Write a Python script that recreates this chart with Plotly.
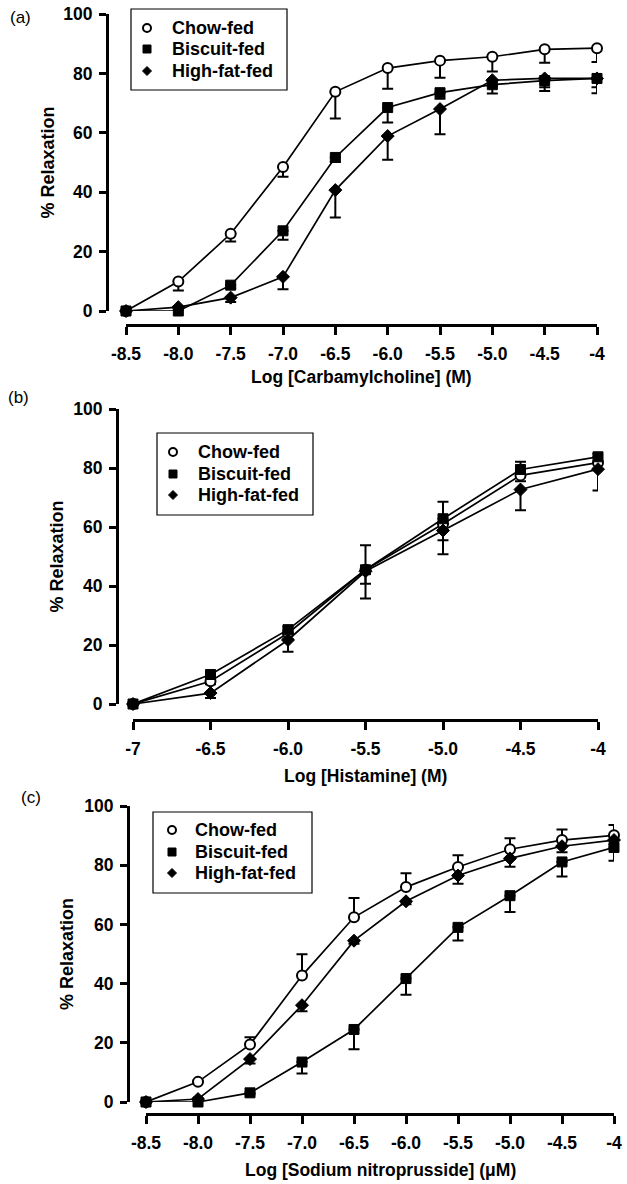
import plotly.graph_objects as go

W, H = 627, 1184

# ---------------- data ----------------
series_names = ["Chow-fed", "Biscuit-fed", "High-fat-fed"]

# Panel (a) carbamylcholine
xa = [-8.5, -8.0, -7.5, -7.0, -6.5, -6.0, -5.5, -5.0, -4.5, -4.0]
xa_ticks = ["-8.5", "-8.0", "-7.5", "-7.0", "-6.5", "-6.0", "-5.5", "-5.0", "-4.5", "-4"]
a_chow = [0, 9.9, 26, 48.5, 73.8, 81.8, 84.3, 85.6, 88.1, 88.5]
a_chow_err = [0, 3, 2.6, 3.3, 9, 7, 5.8, 5, 4.5, 4.7]
a_bisc = [0, 0, 8.7, 27, 51.7, 68.5, 73.5, 76.2, 77.6, 78.3]
a_bisc_err = [0, 0, 1, 3, 1.5, 5, 2, 3, 3.5, 5]
a_hf = [0, 1.3, 4.5, 11.5, 40.7, 58.9, 68, 77.7, 78.3, 78.3]
a_hf_err = [0, 0.5, 1.5, 4.2, 9.2, 8, 8.5, 2, 3, 3]

# Panel (b) histamine
xb = [-7.0, -6.5, -6.0, -5.5, -5.0, -4.5, -4.0]
xb_ticks = ["-7", "-6.5", "-6.0", "-5.5", "-5.0", "-4.5", "-4"]
b_chow = [0, 7.7, 24, 45.5, 61, 77.5, 81.8]
b_chow_err = [0, 1, 2, 4.7, 5.5, 2, 2]
b_bisc = [0, 10, 25.2, 45.5, 62.8, 79.5, 83.8]
b_bisc_err = [0, 1, 1, 8.3, 5.8, 2.6, 1]
b_hf = [0, 3.7, 21.7, 45, 58.8, 72.7, 79.6]
b_hf_err = [0, 1.7, 4, 9.2, 8, 7, 7.2]

# Panel (c) sodium nitroprusside
xc = [-8.5, -8.0, -7.5, -7.0, -6.5, -6.0, -5.5, -5.0, -4.5, -4.0]
xc_ticks = ["-8.5", "-8.0", "-7.5", "-7.0", "-6.5", "-6.0", "-5.5", "-5.0", "-4.5", "-4"]
c_chow = [0, 6.8, 19.4, 42.7, 62.4, 72.6, 79.4, 85.4, 88.5, 90.1]
c_chow_err = [0, 0.5, 2.5, 7.2, 6.5, 4.7, 4, 3.7, 3.6, 3.5]
c_bisc = [0, 0, 3.1, 13.5, 24.5, 41.7, 59, 69.7, 81.1, 86]
c_bisc_err = [0, 0, 0.5, 3.9, 6.7, 5.5, 4.4, 5.5, 4.9, 4.5]
c_hf = [0, 1.0, 14.5, 32.7, 54.5, 67.8, 76.5, 82.3, 86.4, 88.5]
c_hf_err = [0, 0.3, 1.5, 2, 1, 1, 2.8, 2.8, 2, 1.5]

y_ticks = [0, 20, 40, 60, 80, 100]

# ---------------- layout geometry (window pixels) ----------------
panels = [
    dict(x=xa, xt=xa_ticks, xr=[-8.5, -4.0], ylinex=107, y0=311, y100=14,
         xaxy=325, xl=126, xr_px=597, label="(a)", lab_xy=(20, 17),
         title="Log [Carbamylcholine] (M)", title_y=377, ytitle_x=48,
         box=(131, 9, 287, 90), sym_x=147, txt_x=171, rows=(28, 49, 71),
         data=[(a_chow, a_chow_err, "down"), (a_bisc, a_bisc_err, "down"), (a_hf, a_hf_err, "down")]),
    dict(x=xb, xt=xb_ticks, xr=[-7.0, -4.0], ylinex=117, y0=704, y100=409,
         xaxy=720, xl=133, xr_px=598, label="(b)", lab_xy=(18, 397),
         title="Log [Histamine] (M)", title_y=776, ytitle_x=56,
         box=(157, 433, 313, 515), sym_x=173, txt_x=197, rows=(452, 474, 495),
         data=[(b_chow, b_chow_err, "down"), (b_bisc, b_bisc_err, "up"), (b_hf, b_hf_err, "down")]),
    dict(x=xc, xt=xc_ticks, xr=[-8.5, -4.0], ylinex=128, y0=1102, y100=806,
         xaxy=1114, xl=146, xr_px=614, label="(c)", lab_xy=(31, 797),
         title="Log [Sodium nitroprusside] (\u03bcM)", title_y=1170, ytitle_x=67,
         box=(153, 812, 312, 893), sym_x=172, txt_x=194, rows=(830, 852, 873),
         data=[(c_chow, c_chow_err, "up"), (c_bisc, c_bisc_err, "down"), (c_hf, c_hf_err, "down")]),
]

FONT = "Liberation Sans, Arial, sans-serif"
markers = [
    dict(symbol="circle", size=10, color="white", line=dict(color="black", width=2)),
    dict(symbol="square", size=10, color="black", line=dict(color="black", width=1)),
    dict(symbol="diamond", size=10, color="black", line=dict(color="black", width=1)),
]

fig = go.Figure()
shapes = []
annotations = []
layout = {}


def px(x):
    return x / W


def py(y):
    return 1 - y / H


def note(text, x, y, size=18, xanchor="center", angle=0):
    annotations.append(dict(text=text, xref="paper", yref="paper", x=px(x), y=py(y),
                            xanchor=xanchor, yanchor="middle", textangle=angle,
                            showarrow=False, borderpad=0,
                            font=dict(family=FONT, size=size, color="black")))


for i, p in enumerate(panels):
    n = "" if i == 0 else str(i + 1)
    xref = "x" + n
    yref = "y" + n
    for j, (vals, err, direction) in enumerate(p["data"]):
        zeros = [0] * len(err)
        ey = dict(type="data", symmetric=False, color="black", thickness=2, width=5.5,
                  array=err if direction == "up" else zeros,
                  arrayminus=err if direction == "down" else zeros)
        fig.add_trace(go.Scatter(
            x=p["x"], y=vals, mode="lines+markers", xaxis=xref, yaxis=yref,
            line=dict(color="black", width=1.7), marker=markers[j], error_y=ey,
            cliponaxis=False, showlegend=False, name=series_names[j]))

    layout["xaxis" + n] = dict(
        domain=[px(p["xl"]), px(p["xr_px"])], range=p["xr"], anchor="free",
        position=py(p["xaxy"]), showline=True, linecolor="black", linewidth=3,
        ticks="outside", ticklen=8, tickwidth=3, tickcolor="black",
        tickvals=p["x"], ticktext=p["xt"], showgrid=False, zeroline=False,
        automargin=False,
        tickfont=dict(family=FONT, size=17.5, color="black", weight="bold"),
        ticklabelstandoff=4, fixedrange=True)
    layout["yaxis" + n] = dict(
        domain=[py(p["y0"]), py(p["y100"])], range=[0, 100], anchor="free",
        position=px(p["ylinex"]), showline=True, linecolor="black", linewidth=3,
        ticks="outside", ticklen=7, tickwidth=3, tickcolor="black",
        tickvals=y_ticks, ticktext=[str(v) for v in y_ticks], showgrid=False,
        zeroline=False, automargin=False, ticklabeloverflow="allow",
        tickfont=dict(family=FONT, size=17.5, color="black", weight="bold"),
        ticklabelstandoff=3, fixedrange=True)

    # legend box
    bx0, by0, bx1, by1 = p["box"]
    shapes.append(dict(type="rect", xref="paper", yref="paper",
                       x0=px(bx0), x1=px(bx1), y0=py(by1), y1=py(by0),
                       line=dict(color="black", width=1.2), fillcolor="white", layer="below"))
    # legend symbols
    sx = p["sym_x"]
    r = 4
    ry0, ry1, ry2 = p["rows"]
    shapes.append(dict(type="circle", xref="paper", yref="paper",
                       x0=px(sx - r), x1=px(sx + r), y0=py(ry0 + r), y1=py(ry0 - r),
                       line=dict(color="black", width=2), fillcolor="white"))
    shapes.append(dict(type="rect", xref="paper", yref="paper",
                       x0=px(sx - r), x1=px(sx + r), y0=py(ry1 + r), y1=py(ry1 - r),
                       line=dict(color="black", width=1), fillcolor="black"))
    rd = 4.5
    path = "M {},{} L {},{} L {},{} L {},{} Z".format(
        px(sx), py(ry2 - rd), px(sx + rd), py(ry2), px(sx), py(ry2 + rd), px(sx - rd), py(ry2))
    shapes.append(dict(type="path", xref="paper", yref="paper", path=path,
                       line=dict(color="black", width=1), fillcolor="black"))
    for j, ry in enumerate(p["rows"]):
        note("<b>" + series_names[j] + "</b>", p["txt_x"], ry, size=18, xanchor="left")

    note(p["label"], p["lab_xy"][0], p["lab_xy"][1], size=17)
    note("<b>" + p["title"] + "</b>", (p["xl"] + p["xr_px"]) / 2, p["title_y"], size=17.5)
    note("<b>% Relaxation</b>", p["ytitle_x"], (p["y0"] + p["y100"]) / 2, size=18, angle=-90)

fig.update_layout(
    width=W, height=H, margin=dict(l=0, r=0, t=0, b=0, autoexpand=False),
    paper_bgcolor="white", plot_bgcolor="white", showlegend=False,
    shapes=shapes, annotations=annotations, **layout)

fig.write_html("out.html", config={"displayModeBar": False},
               post_script="document.body.style.margin='0px';document.body.style.overflow='hidden';")
